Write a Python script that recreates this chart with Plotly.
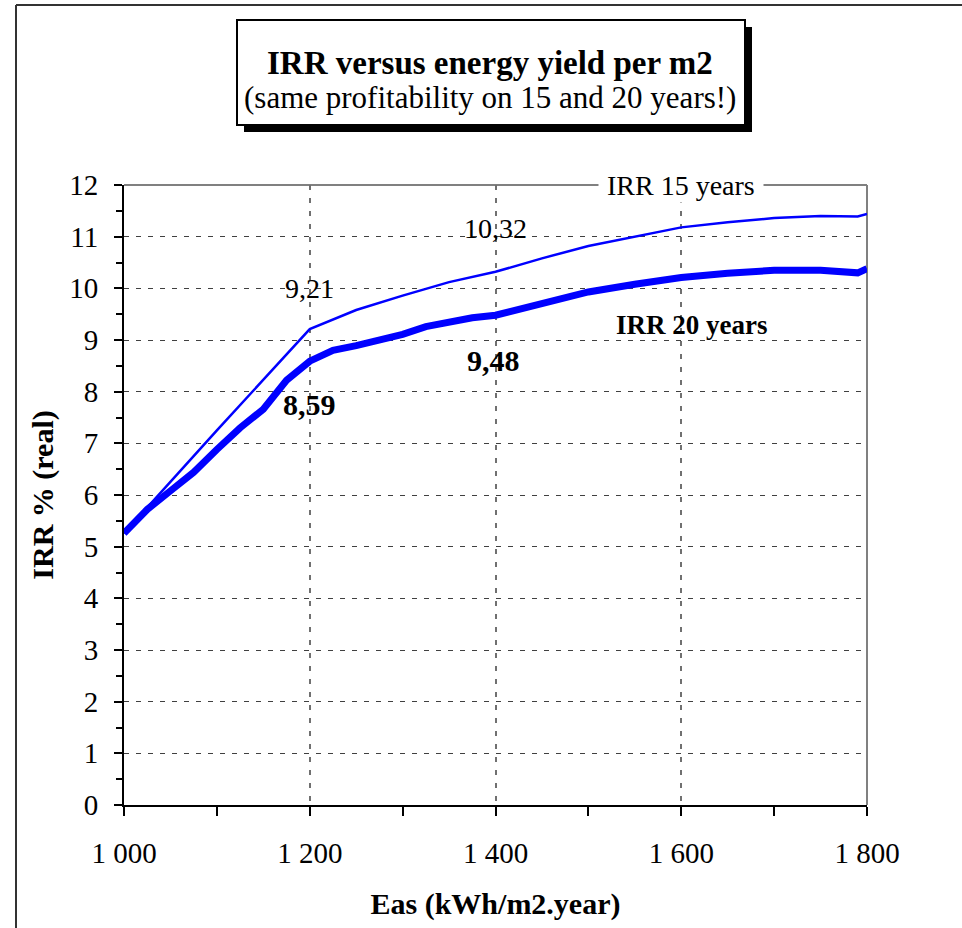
import plotly.graph_objects as go

# ---- data ----
eas_15 = [1000, 1100, 1200, 1250, 1300, 1350, 1400, 1450, 1500, 1550, 1600, 1650, 1700, 1750, 1790, 1800]
irr_15 = [5.26, 7.25, 9.21, 9.58, 9.86, 10.12, 10.32, 10.58, 10.82, 11.00, 11.18, 11.28, 11.36, 11.40, 11.39, 11.44]

eas_20 = [1000, 1025, 1050, 1075, 1100, 1125, 1150, 1175, 1200, 1225, 1250, 1275, 1300, 1325, 1350,
          1375, 1400, 1425, 1450, 1500, 1550, 1600, 1650, 1700, 1750, 1775, 1790, 1800]
irr_20 = [5.26, 5.72, 6.08, 6.44, 6.88, 7.30, 7.66, 8.22, 8.59, 8.80, 8.89, 8.99, 9.11, 9.26, 9.35,
          9.43, 9.48, 9.59, 9.73, 9.93, 10.08, 10.21, 10.29, 10.35, 10.35, 10.30, 10.30, 10.38]

x_tickvals = [1000, 1200, 1400, 1600, 1800]
x_ticktext = ["1 000", "1 200", "1 400", "1 600", "1 800"]

title_line1 = "IRR versus energy yield per m2"
title_line2 = "(same profitability on 15 and 20 years!)"

FONT = "Liberation Serif"
BLUE = "#0000FF"

fig = go.Figure()
fig.add_trace(go.Scatter(x=eas_15, y=irr_15, mode="lines", line=dict(color=BLUE, width=2.5),
                         name="IRR 15 years", showlegend=False, hoverinfo="skip"))
fig.add_trace(go.Scatter(x=eas_20, y=irr_20, mode="lines", line=dict(color=BLUE, width=7),
                         name="IRR 20 years", showlegend=False, hoverinfo="skip"))

L, R, T, B = 124, 867, 185, 805
W, H = 962, 928
pw, ph = R - L, B - T


def px(xp):
    return (xp - L) / pw


def py(yp):
    return (B - yp) / ph


shapes = []
# outer chart frame (left and top visible)
shapes.append(dict(type="line", xref="paper", yref="paper", x0=px(16), x1=px(16), y0=py(5), y1=py(H + 5),
                   line=dict(color="#333333", width=2), layer="above"))
shapes.append(dict(type="line", xref="paper", yref="paper", x0=px(16), x1=px(W), y0=py(5), y1=py(5),
                   line=dict(color="#333333", width=2), layer="above"))
# plot area border top/right gray
shapes.append(dict(type="line", xref="paper", yref="paper", x0=0, x1=1, y0=1, y1=1,
                   line=dict(color="#808080", width=2), layer="below"))
shapes.append(dict(type="line", xref="paper", yref="paper", x0=1, x1=1, y0=0, y1=1,
                   line=dict(color="#808080", width=2), layer="below"))
# title box shadow and box
shapes.append(dict(type="rect", xref="paper", yref="paper", x0=px(244), x1=px(752), y0=py(27), y1=py(132),
                   fillcolor="black", line=dict(width=0), layer="above"))
shapes.append(dict(type="rect", xref="paper", yref="paper", x0=px(237), x1=px(745), y0=py(20), y1=py(125),
                   fillcolor="white", line=dict(color="black", width=2), layer="above"))

annotations = [
    dict(xref="paper", yref="paper", x=px(490), y=py(63), text="<b>" + title_line1 + "</b>", showarrow=False,
         font=dict(family=FONT, size=33, color="black"), xanchor="center", yanchor="middle"),
    dict(xref="paper", yref="paper", x=px(490), y=py(98), text=title_line2, showarrow=False,
         font=dict(family=FONT, size=31, color="black"), xanchor="center", yanchor="middle"),
    dict(x=1200, y=9.99, text="9,21", showarrow=False, font=dict(family=FONT, size=28, color="black")),
    dict(x=1199.5, y=7.76, text="<b>8,59</b>", showarrow=False, font=dict(family=FONT, size=30, color="black")),
    dict(x=1400.5, y=11.15, text="10,32", showarrow=False, font=dict(family=FONT, size=28, color="black")),
    dict(x=1398, y=8.61, text="<b>9,48</b>", showarrow=False, font=dict(family=FONT, size=30, color="black")),
    dict(x=1858, y=11.38, text="11,39", showarrow=False, font=dict(family=FONT, size=28, color="black")),
    dict(x=1861, y=10.32, text="<b>10,35</b>", showarrow=False, font=dict(family=FONT, size=30, color="black")),
    dict(x=1611, y=9.29, text="<b>IRR 20 years</b>", showarrow=False, font=dict(family=FONT, size=27, color="black")),
    dict(x=1600, y=12, text=" IRR 15 years ", showarrow=False, bgcolor="white",
         font=dict(family=FONT, size=28, color="black")),
]

fig.update_layout(
    width=W, height=H,
    margin=dict(l=L, r=W - R, t=T, b=H - B, pad=0),
    paper_bgcolor="white", plot_bgcolor="white",
    font=dict(family=FONT, size=30, color="black"),
    shapes=shapes, annotations=annotations,
    xaxis=dict(
        range=[1000, 1800], tickvals=x_tickvals, ticktext=x_ticktext,
        ticks="outside", ticklen=9, tickwidth=2, tickcolor="black", ticklabelstandoff=12,
        minor=dict(dtick=100, tick0=1000, ticks="outside", ticklen=9, tickwidth=2, tickcolor="black", showgrid=False),
        showline=True, linecolor="black", linewidth=2, mirror=False,
        showgrid=True, gridcolor="#707070", gridwidth=1.5, griddash="5px,8px",
        zeroline=False, tickfont=dict(family=FONT, size=29, color="black"),
        title=dict(text="<b>Eas (kWh/m2.year)</b>", font=dict(family=FONT, size=30, color="black"), standoff=25),
    ),
    yaxis=dict(
        range=[0, 12], dtick=1, tick0=0,
        ticks="outside", ticklen=8, tickwidth=2, tickcolor="black", ticklabelstandoff=10,
        minor=dict(dtick=0.5, ticks="outside", ticklen=6, tickwidth=2, tickcolor="black", showgrid=False),
        showline=True, linecolor="black", linewidth=2, mirror=False,
        showgrid=True, gridcolor="#404040", gridwidth=1, griddash="5px,7px",
        zeroline=False, tickfont=dict(family=FONT, size=29, color="black"),
        title=dict(text="<b>IRR % (real)</b>", font=dict(family=FONT, size=30, color="black"), standoff=7),
    ),
)

fig.write_html("out.html", config={"displayModeBar": False},
               post_script="document.body.style.margin='0';document.body.style.overflow='hidden';")
